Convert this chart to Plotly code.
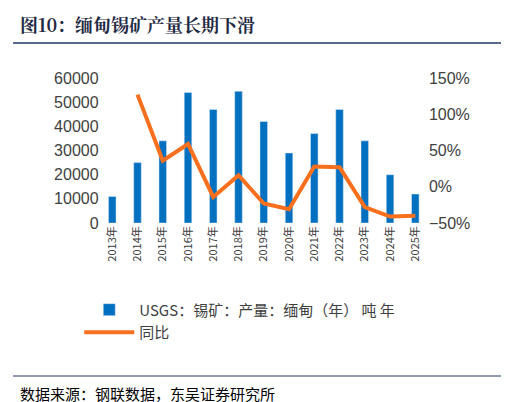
import plotly.graph_objects as go

years = [str(y) + "年" for y in range(2013, 2026)]
output_t = [11000, 25000, 34000, 54000, 47000, 54500, 42000, 29000, 37000, 47000, 34000, 20000, 12000]
yoy_years = years[1:]
yoy_pct = [127, 36, 59, -14, 16, -23, -31, 28, 27, -28, -41, -40]

font_cn = "Noto Sans CJK SC"

fig = go.Figure()
fig.add_trace(go.Bar(x=years, y=output_t, name="USGS：锡矿：产量：缅甸（年） 吨 年",
                     marker_color="#0070C0", width=0.3))
fig.add_trace(go.Scatter(x=yoy_years, y=yoy_pct, name="同比", yaxis="y2", mode="lines",
                         line=dict(color="#F8701E", width=4)))

fig.update_layout(
    width=509, height=402,
    margin=dict(l=0, r=0, t=0, b=0, autoexpand=False),
    paper_bgcolor="white", plot_bgcolor="white",
    font=dict(family="Liberation Sans, Arial", size=16, color="#404040"),
    xaxis=dict(domain=[0.18, 0.825], tickangle=-90, tickfont=dict(family=font_cn, size=11),
               showline=False, ticks="", automargin=False),
    yaxis=dict(range=[0, 60000], dtick=10000, tickformat="d", showgrid=False, anchor="x",
               tickfont=dict(size=16), domain=[0.465, 0.826], automargin=False),
    yaxis2=dict(range=[-50, 150], dtick=50, overlaying="y", side="right", showgrid=False,
                ticksuffix="%", tickfont=dict(size=16), automargin=False),
    legend=dict(x=0.14, y=0.29, xanchor="left", yanchor="top", font=dict(family=font_cn, size=15),
                tracegroupgap=10, itemwidth=50),
    bargap=0.5,
    shapes=[
        dict(type="line", xref="paper", yref="paper", x0=0.01, x1=0.99, y0=1 - 35 / 402, y1=1 - 35 / 402,
             line=dict(color="#1F3864", width=1.5)),
        dict(type="line", xref="paper", yref="paper", x0=0.01, x1=0.99, y0=1 - 368 / 402, y1=1 - 368 / 402,
             line=dict(color="#1F3864", width=1)),
    ],
    annotations=[
        dict(text="<b>图10：缅甸锡矿产量长期下滑</b>", xref="paper", yref="paper", x=0.02, y=1 - 16 / 402,
             xanchor="left", yanchor="middle", showarrow=False,
             font=dict(family="Noto Serif CJK SC, " + font_cn, size=18, color="#1F2A44")),
        dict(text="数据来源：钢联数据，东吴证券研究所", xref="paper", yref="paper", x=0.02, y=1 - 385 / 402,
             xanchor="left", yanchor="middle", showarrow=False,
             font=dict(family=font_cn, size=15, color="#000000")),
    ],
)

fig.write_html("out.html")
